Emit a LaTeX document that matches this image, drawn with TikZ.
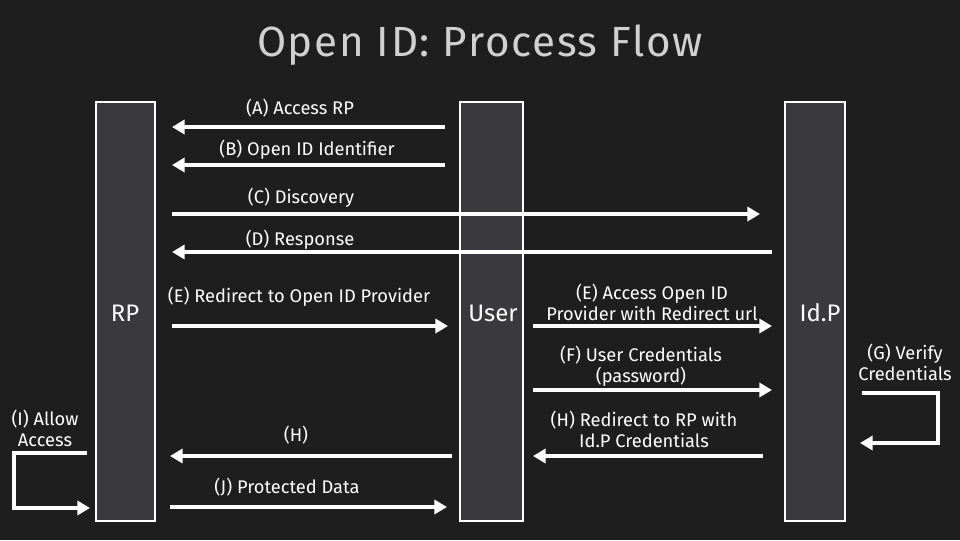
\documentclass[tikz,border=0pt]{standalone}
\usepackage{fontspec}
\setmainfont{Fira Sans}
\usetikzlibrary{arrows.meta}
\definecolor{bgdark}{HTML}{1E1E1F}
\definecolor{bardark}{HTML}{3A3A3E}
\definecolor{titlegray}{HTML}{D0D0D0}
\tikzset{>={Triangle[length=9pt,width=10pt]},
  flow/.style={->,white,line width=3pt},
  lbl/.style={text=white,font=\fontsize{13}{15}\selectfont,align=center},
  bar/.style={fill=bardark,draw=white,line width=0.8pt}}
\begin{document}
\begin{tikzpicture}[x=0.025cm,y=-0.025cm]
  \fill[bgdark] (0,0) rectangle (960,540);
  \node[text=titlegray,font=\fontsize{30}{34}\selectfont\addfontfeature{LetterSpace=4}] (title) at (480,45) {Open ID: Process Flow};
  % lifelines
  \draw[bar] (96,102) rectangle (155,521);
  \draw[bar] (460,102) rectangle (523,521);
  \draw[bar] (785,102) rectangle (845,521);
  \node[lbl,font=\fontsize{17}{20}\selectfont] (rp) at (125,313) {RP};
  \node[lbl,font=\fontsize{17}{20}\selectfont] (user) at (493,313) {User};
  \node[lbl,font=\fontsize{17}{20}\selectfont] (idp) at (820,313) {Id.P};
  % arrow end points
  \coordinate (a1) at (445,127); \coordinate (a2) at (172,127);
  \coordinate (b1) at (445,165); \coordinate (b2) at (172,165);
  \coordinate (c1) at (172,214); \coordinate (c2) at (760,214);
  \coordinate (d1) at (772,252); \coordinate (d2) at (172,252);
  \coordinate (e1) at (172,326); \coordinate (e2) at (448,326);
  \coordinate (f1) at (533,326); \coordinate (f2) at (772,326);
  \coordinate (g1) at (533,390); \coordinate (g2) at (772,390);
  \coordinate (h1) at (763,456); \coordinate (h2) at (533,456);
  \coordinate (k1) at (452,456); \coordinate (k2) at (170,456);
  \coordinate (j1) at (170,507); \coordinate (j2) at (447,507);
  \draw[flow] (a1) -- (a2);
  \draw[flow] (b1) -- (b2);
  \draw[flow] (c1) -- (c2);
  \draw[flow] (d1) -- (d2);
  \draw[flow] (e1) -- (e2);
  \draw[flow] (f1) -- (f2);
  \draw[flow] (g1) -- (g2);
  \draw[flow] (h1) -- (h2);
  \draw[flow] (k1) -- (k2);
  \draw[flow] (j1) -- (j2);
  % self loops
  \coordinate (i1) at (87,453); \coordinate (i2) at (90,508);
  \draw[flow] (i1) -| (14,508) -- (i2);
  \coordinate (v1) at (862,393); \coordinate (v2) at (860,443);
  \draw[flow] (v1) -| (938,443) -- (v2);
  % labels
  \node[lbl] (la) at (300,108) {(A) Access RP};
  \node[lbl] (lb) at (307,150) {(B) Open ID Identifier};
  \node[lbl] (lc) at (301,198) {(C) Discovery};
  \node[lbl] (ld) at (300,240) {(D) Response};
  \node[lbl] (le) at (299,297) {(E) Redirect to Open ID Provider};
  \node[lbl] (lf) at (652,302) {(E) Access Open ID\\Provider with Redirect url};
  \node[lbl] (lg) at (641,366) {(F) User Credentials\\(password)};
  \node[lbl] (lh) at (644,429) {(H) Redirect to RP with\\Id.P Credentials};
  \node[lbl] (lk) at (296,435) {(H)};
  \node[lbl] (lj) at (287,487) {(J) Protected Data};
  \node[lbl] (li) at (45,428) {(I) Allow\\Access};
  \node[lbl] (lv) at (905,362) {(G) Verify\\Credentials};
\end{tikzpicture}
\end{document}
